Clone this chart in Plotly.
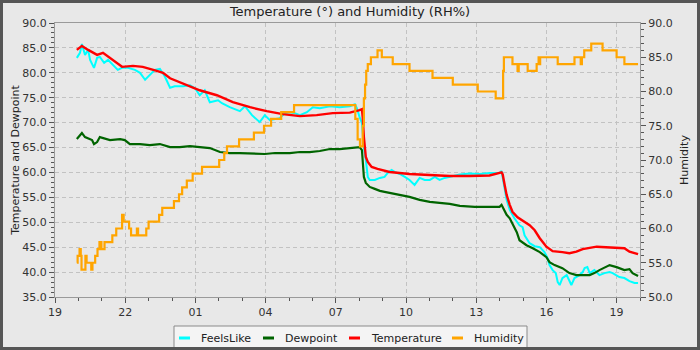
import plotly.graph_objects as go
from datetime import datetime, timedelta

# ---- readings (clock time, value); the series runs overnight into the next day ----
temp_time = ["19:56", "20:09", "20:25", "20:48", "21:03", "21:29", "21:52", "22:20", "22:45",
             "23:21", "23:37", "23:55", "00:38", "01:11", "01:55", "02:36", "03:20", "04:03",
             "04:44", "05:28", "06:11", "06:52", "07:36", "07:49", "08:01", "08:07", "08:09",
             "08:12", "08:17", "08:22", "08:32", "08:47", "09:18", "10:09", "11:01", "11:52",
             "12:43", "13:34", "14:05", "14:08", "14:13", "14:18", "14:26", "14:33", "14:46",
             "15:04", "15:17", "15:30", "15:43", "16:00", "16:16", "16:41", "16:59", "17:17",
             "17:33", "18:09", "19:00", "19:20", "19:33", "19:55"]
temp_vals = [84.6, 85.4, 84.6, 83.6, 84.0, 82.6, 81.2, 81.4, 81.2,
             80.4, 80.0, 78.9, 77.5, 76.5, 75.5, 74.1, 73.1, 72.3,
             71.7, 71.3, 71.5, 71.9, 72.0, 72.2, 72.5, 72.7, 71.1,
             67.1, 63.1, 62.1, 61.1, 60.7, 60.1, 59.7, 59.5, 59.3,
             59.3, 59.4, 60.0, 59.6, 57.5, 55.5, 53.5, 52.1, 51.0,
             50.0, 49.4, 48.4, 46.8, 45.1, 44.2, 44.0, 43.8, 44.1,
             44.6, 45.1, 44.8, 44.8, 44.1, 43.6]

feels_time = ["19:56", "20:04", "20:09", "20:17", "20:25", "20:30", "20:40", "20:48", "20:55",
              "21:06", "21:16", "21:29", "21:41", "21:52", "22:07", "22:25", "22:38", "22:51",
              "23:03", "23:16", "23:29", "23:42", "23:55", "00:07", "00:28", "00:46", "00:59",
              "01:11", "01:24", "01:37", "01:58", "02:08", "02:28", "02:54", "03:07", "03:25",
              "03:45", "03:58", "04:11", "04:36", "04:49", "05:02", "05:15", "05:28", "05:46",
              "06:01", "06:19", "06:45", "07:10", "07:36", "07:49", "07:54", "08:01", "08:07",
              "08:09", "08:12", "08:17", "08:22", "08:27", "08:40", "08:53", "09:05", "09:13",
              "09:23", "09:31", "09:44", "09:57", "10:09", "10:22", "10:35", "10:48", "11:01",
              "11:14", "11:26", "11:39", "11:52", "12:18", "12:43", "13:09", "13:34", "14:00",
              "14:05", "14:13", "14:18", "14:26", "14:38", "14:51", "14:59", "15:04", "15:17",
              "15:30", "15:43", "15:55", "16:03", "16:08", "16:16", "16:24", "16:29", "16:34",
              "16:41", "16:52", "16:59", "17:04", "17:12", "17:25", "17:33", "17:38", "17:45",
              "17:51", "18:03", "18:16", "18:29", "18:42", "18:50", "19:00", "19:07", "19:20",
              "19:33", "19:46", "19:55"]
feels_vals = [83.0, 84.0, 85.8, 83.6, 84.6, 82.6, 81.0, 83.0, 83.2,
              82.0, 82.6, 81.6, 80.6, 81.0, 81.0, 80.6, 80.0, 78.6,
              79.6, 80.6, 80.8, 79.2, 77.0, 77.3, 77.3, 77.5, 76.9,
              75.5, 76.5, 74.1, 74.5, 73.9, 73.1, 72.3, 73.3, 71.5,
              70.1, 71.5, 70.5, 70.9, 71.9, 72.1, 71.9, 71.5, 72.1,
              73.1, 72.9, 73.3, 73.1, 73.3, 73.7, 72.9, 71.1, 69.9,
              67.9, 65.1, 62.5, 59.1, 58.5, 58.5, 58.9, 59.1, 59.9,
              60.5, 60.1, 59.7, 59.1, 58.5, 57.5, 58.9, 58.5, 58.5,
              59.1, 58.5, 58.9, 59.1, 59.6, 59.8, 59.7, 59.9, 59.9,
              60.3, 57.1, 54.5, 52.5, 50.8, 49.4, 49.0, 47.4, 45.8,
              45.2, 45.0, 44.0, 42.8, 41.4, 40.4, 39.8, 38.0, 37.4,
              38.8, 39.4, 38.4, 37.4, 38.8, 39.4, 40.0, 40.8, 41.0,
              39.8, 40.4, 39.4, 39.8, 40.0, 39.8, 39.4, 39.0, 38.8,
              38.2, 37.8, 37.8]

dew_time = ["19:56", "20:04", "20:09", "20:17", "20:25", "20:35", "20:40", "20:48", "20:55",
            "21:21", "21:47", "21:59", "22:12", "22:38", "23:03", "23:29", "23:55", "00:20",
            "00:46", "01:11", "01:37", "02:03", "02:28", "02:54", "03:32", "03:58", "04:24",
            "05:02", "05:28", "05:53", "06:19", "06:45", "07:10", "07:36", "07:49", "08:01",
            "08:07", "08:09", "08:12", "08:17", "08:27", "08:40", "08:53", "09:05", "09:18",
            "09:44", "10:09", "10:35", "11:01", "11:26", "11:52", "12:18", "12:56", "13:34",
            "13:52", "14:00", "14:05", "14:10", "14:18", "14:26", "14:44", "14:51", "15:09",
            "15:25", "15:43", "16:00", "16:08", "16:21", "16:41", "16:59", "17:17", "17:51",
            "18:03", "18:16", "18:34", "18:42", "19:00", "19:20", "19:33", "19:41", "19:55"]
dew_vals = [66.7, 67.5, 67.9, 67.1, 66.9, 66.5, 65.7, 66.1, 67.1,
            66.5, 66.7, 66.5, 65.7, 65.7, 65.5, 65.7, 65.1, 65.1,
            65.3, 65.1, 64.9, 64.1, 63.9, 63.9, 63.7, 63.7, 63.9,
            63.9, 64.1, 64.1, 64.3, 64.7, 64.7, 64.9, 64.9, 65.1,
            64.5, 61.1, 59.1, 57.9, 57.1, 56.7, 56.3, 56.1, 55.9,
            55.5, 55.1, 54.5, 54.1, 53.9, 53.7, 53.3, 53.1, 53.1,
            53.0, 53.1, 53.5, 52.8, 51.5, 50.8, 48.0, 46.4, 45.4,
            44.8, 44.0, 43.0, 42.0, 41.4, 40.8, 39.8, 39.4, 39.4,
            39.8, 40.4, 41.0, 41.4, 41.0, 40.4, 40.6, 39.8, 39.2]

# relative humidity changes in whole percent steps
hum_time = ["19:56", "19:58", "20:03", "20:06", "20:08", "20:18", "20:21", "20:33", "20:36",
            "20:43", "20:49", "20:54", "20:59", "21:07", "21:27", "21:37", "21:52", "21:56",
            "22:10", "22:15", "22:30", "22:33", "22:54", "23:00", "23:27", "23:35", "00:05",
            "00:18", "00:26", "00:38", "00:53", "01:17", "02:01", "02:14", "02:21", "02:52",
            "03:30", "03:56", "04:14", "04:40", "05:13", "07:50", "07:56", "08:02", "08:09",
            "08:12", "08:15", "08:18", "08:22", "08:30", "08:47", "08:58", "09:26", "10:09",
            "11:08", "12:00", "13:04", "13:50", "14:09", "14:11", "14:33", "14:46", "14:49",
            "15:12", "15:35", "15:40", "15:42", "15:44", "16:29", "17:12", "17:28", "17:31",
            "17:37", "17:55", "18:24", "19:00", "19:20", "19:55"]
hum_vals = [55, 56, 57, 56, 54, 56, 55, 54, 55,
            56, 57, 58, 57, 58, 59, 60, 62, 61,
            60, 59, 60, 59, 60, 61, 62, 63, 64,
            65, 66, 67, 68, 69, 70, 71, 72, 73,
            74, 75, 76, 77, 78, 76, 73, 72, 75,
            79, 81, 83, 84, 85, 86, 85, 84, 83,
            82, 81, 80, 79, 83, 85, 84, 83, 84,
            83, 84, 85, 84, 85, 84, 85, 84, 85,
            86, 87, 86, 85, 84, 84]

series_names = ["FeelsLike", "Dewpoint", "Temperature", "Humidity"]
series_colors = ["#00ffff", "#006400", "#ff0000", "#ffa500"]

START = datetime(2023, 8, 14)


def to_datetimes(clock):
    """Turn HH:MM strings into datetimes, rolling over to the next day after midnight."""
    out, day, prev = [], 0, None
    for c in clock:
        hh, mm = map(int, c.split(":"))
        m = hh * 60 + mm
        if prev is not None and m < prev:
            day += 1
        prev = m
        out.append(START + timedelta(days=day, minutes=m))
    return out


FONT = "DejaVu Sans"
BG = "#e8e8e8"

fig = go.Figure()
data = [
    (feels_time, feels_vals, "y", "linear", 2.0),
    (dew_time, dew_vals, "y", "linear", 2.2),
    (temp_time, temp_vals, "y", "linear", 2.4),
    (hum_time, hum_vals, "y2", "hv", 2.2),
]
for (t, v, ax, shape, w), name, col in zip(data, series_names, series_colors):
    fig.add_trace(go.Scatter(
        x=to_datetimes(t), y=v, name=name, mode="lines", yaxis=ax,
        line=dict(color=col, width=w, shape=shape), showlegend=False,
    ))

# plot area in pixels: x 55..640, y 23..297
L, R, T, B, W, H = 55, 60, 23, 53, 700, 350
PW, PH = W - L - R, H - T - B


def px(xp):
    return (xp - L) / PW


def py(yp):
    return (H - B - yp) / PH


x_start = START + timedelta(hours=19)
x_end = START + timedelta(days=1, hours=20)

tick_style = dict(ticks="outside", ticklen=5, tickwidth=1, tickcolor="#555",
                  showline=True, linecolor="#9a9a9a", linewidth=1,
                  tickfont=dict(family=FONT, size=11, color="#333"), zeroline=False)

fig.update_layout(
    width=W, height=H,
    margin=dict(l=L, r=R, t=T, b=B, autoexpand=False),
    paper_bgcolor=BG, plot_bgcolor=BG,
    font=dict(family=FONT, color="#222"),
    title=dict(text="Temperature (°) and Humidity (RH%)", x=0.5, xref="container",
               y=1 - 11 / H, yref="container", xanchor="center", yanchor="middle",
               font=dict(family=FONT, size=13, color="#222")),
    xaxis=dict(type="date", range=[x_start, x_end], tick0=x_start, dtick=3 * 3600000,
               tickformat="%H", mirror=True, showgrid=True, gridcolor="#c2c2c2",
               griddash="4px,3px", gridwidth=1,
               minor=dict(dtick=3600000, tick0=x_start, ticks="outside", ticklen=3,
                          tickcolor="#555", showgrid=False),
               **tick_style),
    yaxis=dict(range=[35, 90], tick0=35, dtick=5, tickformat=".1f", mirror=True,
               showgrid=True, gridcolor="#c2c2c2", griddash="4px,3px", gridwidth=1,
               minor=dict(dtick=1, ticks="outside", ticklen=3, tickcolor="#555",
                          showgrid=False),
               title=dict(text="Temperature and Dewpoint", standoff=0,
                          font=dict(family=FONT, size=11, color="#222")),
               **tick_style),
    yaxis2=dict(overlaying="y", side="right", range=[50, 90], tick0=50, dtick=5,
                tickformat=".1f", showgrid=False,
                minor=dict(dtick=1, ticks="outside", ticklen=3, tickcolor="#555",
                           showgrid=False),
                title=dict(text="Humidity", standoff=8,
                           font=dict(family=FONT, size=11, color="#222")),
                **tick_style),
)

# legend box along the bottom edge
shapes = [dict(type="rect", xref="paper", yref="paper", x0=px(174), x1=px(527),
               y0=py(349), y1=py(326), line=dict(color="#8a8a8a", width=1),
               fillcolor="#f4f4f4", layer="above")]
annotations = []
swatch_x = [179, 263, 349, 452]
label_x = [199, 283, 369, 472]
for sx, lx, name, col in zip(swatch_x, label_x, series_names, series_colors):
    shapes.append(dict(type="line", xref="paper", yref="paper", x0=px(sx), x1=px(sx + 11),
                       y0=py(338), y1=py(338), line=dict(color=col, width=3), layer="above"))
    annotations.append(dict(text=name, xref="paper", yref="paper", x=px(lx), y=py(338),
                            xanchor="left", yanchor="middle", showarrow=False,
                            font=dict(family=FONT, size=11, color="#222")))

# dark frame around the whole chart
shapes.append(dict(type="rect", xref="paper", yref="paper", x0=px(1.5), x1=px(W - 1.5),
                   y0=py(H - 1.5), y1=py(1.5), line=dict(color="#555555", width=3),
                   layer="above"))

fig.update_layout(shapes=shapes, annotations=annotations)
fig.write_html("out.html")
